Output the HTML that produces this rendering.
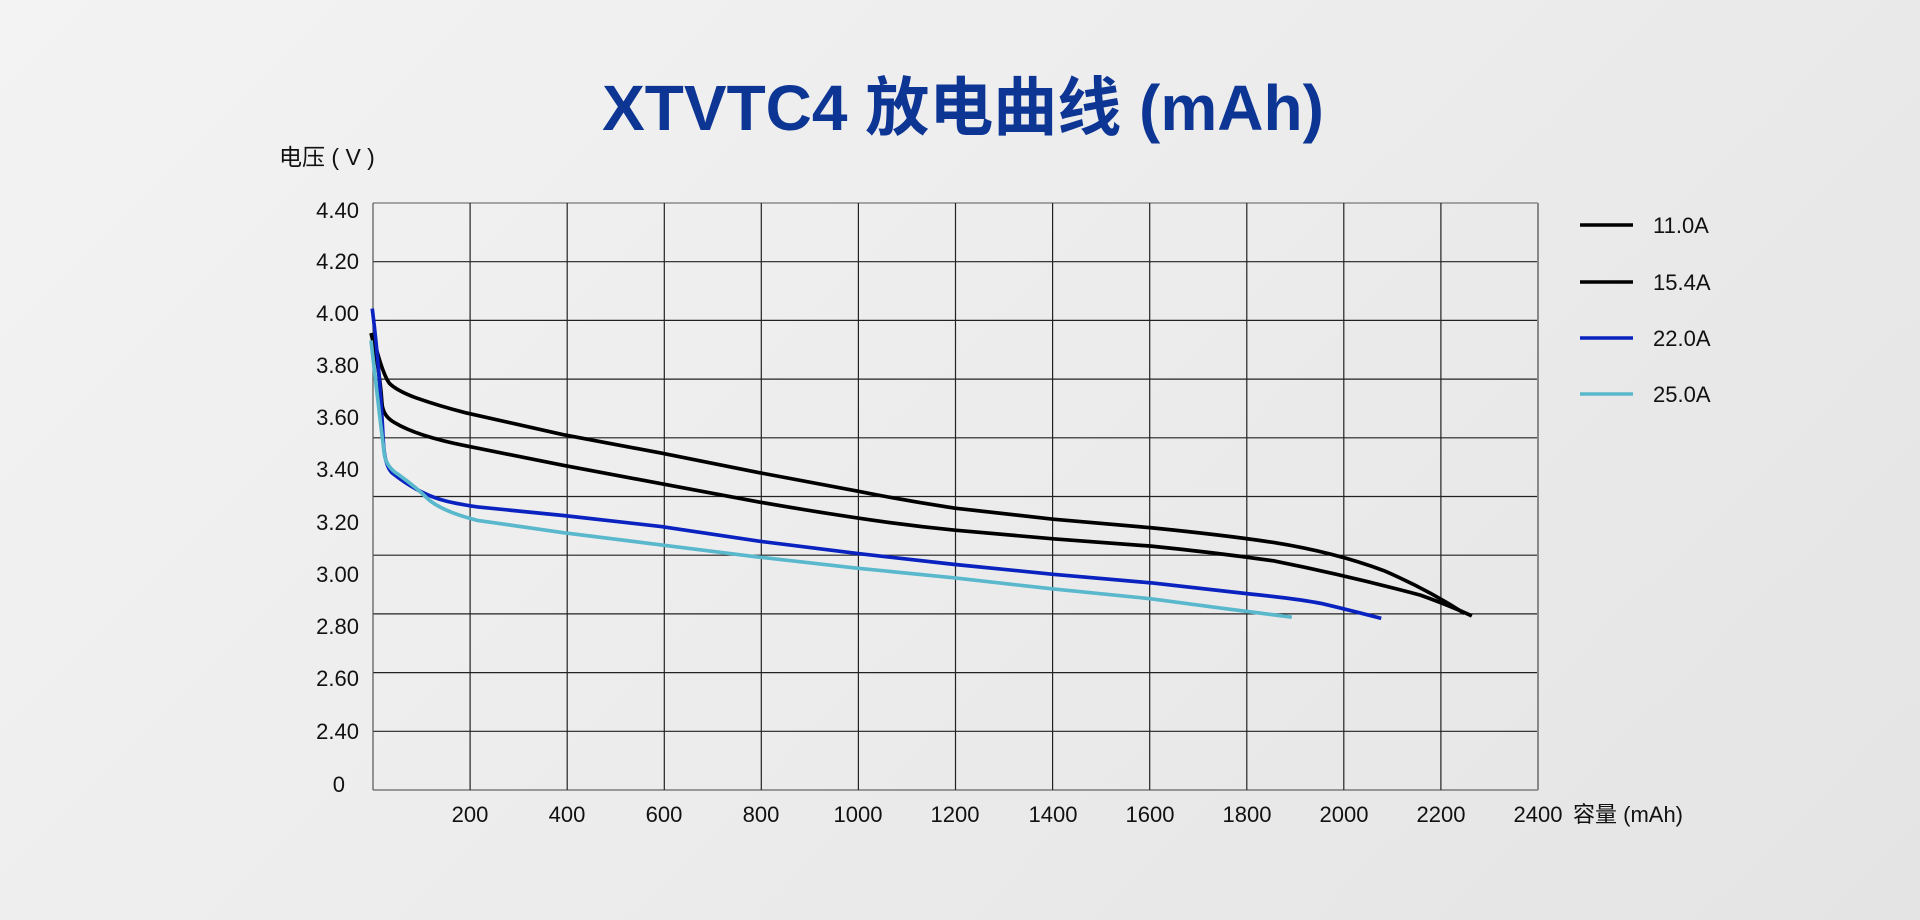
<!DOCTYPE html>
<html><head><meta charset="utf-8"><style>
html,body{margin:0;padding:0}
body{width:1920px;height:920px;overflow:hidden;background:linear-gradient(135deg,#f3f3f3 0%,#ececec 50%,#e4e4e4 100%);}
svg{display:block}
text{font-family:"Liberation Sans","Noto Sans CJK SC",sans-serif;}
</style></head><body>
<svg width="1920" height="920" viewBox="0 0 1920 920" xmlns="http://www.w3.org/2000/svg">
<text x="963" y="130" text-anchor="middle" font-size="64" font-weight="bold" fill="#0d3594">XTVTC4 放电曲线 (mAh)</text>
<text x="279" y="165" font-size="23" fill="#111">电压 ( V )</text>
<g stroke="#222" stroke-width="1.2" fill="none">
<line x1="373" y1="203" x2="1538" y2="203" stroke="#777"/>
<line x1="373" y1="261.7" x2="1538" y2="261.7"/>
<line x1="373" y1="320.4" x2="1538" y2="320.4"/>
<line x1="373" y1="379.1" x2="1538" y2="379.1"/>
<line x1="373" y1="437.8" x2="1538" y2="437.8"/>
<line x1="373" y1="496.5" x2="1538" y2="496.5"/>
<line x1="373" y1="555.2" x2="1538" y2="555.2"/>
<line x1="373" y1="613.9" x2="1538" y2="613.9"/>
<line x1="373" y1="672.6" x2="1538" y2="672.6"/>
<line x1="373" y1="731.3" x2="1538" y2="731.3"/>
<line x1="373" y1="790" x2="1538" y2="790" stroke="#666"/>
<line x1="373" y1="203" x2="373" y2="790" stroke="#555"/>
<line x1="470.1" y1="203" x2="470.1" y2="790"/>
<line x1="567.2" y1="203" x2="567.2" y2="790"/>
<line x1="664.3" y1="203" x2="664.3" y2="790"/>
<line x1="761.3" y1="203" x2="761.3" y2="790"/>
<line x1="858.4" y1="203" x2="858.4" y2="790"/>
<line x1="955.5" y1="203" x2="955.5" y2="790"/>
<line x1="1052.6" y1="203" x2="1052.6" y2="790"/>
<line x1="1149.7" y1="203" x2="1149.7" y2="790"/>
<line x1="1246.8" y1="203" x2="1246.8" y2="790"/>
<line x1="1343.8" y1="203" x2="1343.8" y2="790"/>
<line x1="1440.9" y1="203" x2="1440.9" y2="790"/>
<line x1="1538" y1="203" x2="1538" y2="790" stroke="#888" stroke-width="2"/>
</g>
<g font-size="22" fill="#111" text-anchor="end">
<text x="359" y="218">4.40</text><text x="359" y="269">4.20</text><text x="359" y="321">4.00</text>
<text x="359" y="373">3.80</text><text x="359" y="425">3.60</text><text x="359" y="477">3.40</text>
<text x="359" y="530">3.20</text><text x="359" y="582">3.00</text><text x="359" y="634">2.80</text>
<text x="359" y="686">2.60</text><text x="359" y="739">2.40</text><text x="345" y="792">0</text>
</g>
<g font-size="22" fill="#111" text-anchor="middle">
<text x="470" y="822">200</text><text x="567" y="822">400</text><text x="664" y="822">600</text>
<text x="761" y="822">800</text><text x="858" y="822">1000</text><text x="955" y="822">1200</text>
<text x="1053" y="822">1400</text><text x="1150" y="822">1600</text><text x="1247" y="822">1800</text>
<text x="1344" y="822">2000</text><text x="1441" y="822">2200</text><text x="1538" y="822">2400</text>
</g>
<text x="1573" y="822" font-size="22" fill="#111">容量 (mAh)</text>
<g transform="scale(1.2245)" fill="none" stroke-linecap="butt" stroke-linejoin="round">
<path stroke="#000" stroke-width="3" d="M304,272 Q312,305 318,313 Q324,319 340,325 Q360,332 380,337 L460,355 L540,370 L620,386 L700,401 Q740,409 780,415 L860,424 L940,431 Q1000,437 1040,443 Q1090,451 1130,466 Q1165,481 1196,501"/>
<path stroke="#000" stroke-width="3" d="M303,272 Q310,300 312,330 Q313,340 322,345 Q340,356 380,364 L460,380 L540,395 L620,410 Q660,417 700,423 Q740,429 780,433 L860,440 L940,446 Q990,451 1040,458 Q1100,470 1160,486 Q1185,495 1202,503"/>
<path stroke="#0a22c0" stroke-width="3" d="M304,252 Q310,300 313,360 Q314,380 320,386 Q340,402 360,408 Q370,411 390,414 L460,421 L540,430 L620,442 L700,452 L780,461 L860,469 L940,476 L1020,485 Q1060,489 1080,493 Q1105,499 1128,505"/>
<path stroke="#5ab8cc" stroke-width="3" d="M303,278 Q310,340 314,372 Q316,382 326,388 Q340,398 350,408 Q362,418 390,425 L460,435 L540,445 L620,455 L700,464 L780,472 L860,481 L940,489 L1000,497 L1055,504"/>
</g>
<g stroke-width="3.5">
<line x1="1580" y1="225" x2="1633" y2="225" stroke="#000"/>
<line x1="1580" y1="282" x2="1633" y2="282" stroke="#000"/>
<line x1="1580" y1="338" x2="1633" y2="338" stroke="#0a22c0"/>
<line x1="1580" y1="394" x2="1633" y2="394" stroke="#5ab8cc"/>
</g>
<g font-size="22" fill="#111">
<text x="1653" y="233">11.0A</text><text x="1653" y="290">15.4A</text>
<text x="1653" y="346">22.0A</text><text x="1653" y="402">25.0A</text>
</g>
</svg>
</body></html>
